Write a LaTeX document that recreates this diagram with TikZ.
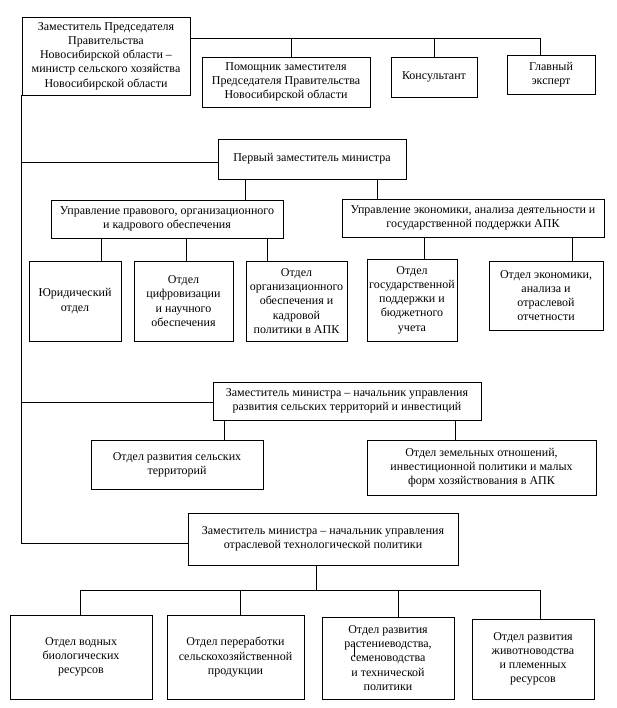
\documentclass[tikz,border=0pt]{standalone}
\usepackage{fontspec}
\setmainfont{Liberation Serif}
\begin{document}
\begin{tikzpicture}[x=1pt,y=-1pt,
  box/.style={draw=black, line width=0.9pt, fill=white, inner sep=0pt, align=center,
    font=\fontsize{12}{14.2}\selectfont},
  conn/.style={draw=black, line width=0.9pt}]
\fill[white] (0,0) rectangle (617,708);
\useasboundingbox (0,0) rectangle (617,708);

% top row
\node[box, minimum width=168pt, minimum height=78pt] (min) at (106,56)
  {Заместитель Председателя\\Правительства\\Новосибирской области –\\министр сельского хозяйства\\Новосибирской области};
\node[box, minimum width=168pt, minimum height=50pt] (asst) at (286,82)
  {Помощник заместителя\\Председателя Правительства\\Новосибирской области};
\node[box, minimum width=86pt, minimum height=40pt] (cons) at (434,77) {Консультант};
\node[box, minimum width=88pt, minimum height=39pt] (glav) at (551,74.5) {Главный\\эксперт};

% first deputy block
\node[box, minimum width=188pt, minimum height=40pt] (first) at (312,159) {Первый заместитель министра};
\node[box, minimum width=232pt, minimum height=38pt] (upr1) at (167,219)
  {Управление правового, организационного\\и кадрового обеспечения};
\node[box, minimum width=262pt, minimum height=38pt] (upr2) at (473,218)
  {Управление экономики, анализа деятельности и\\государственной поддержки АПК};
\node[box, minimum width=92pt, minimum height=80pt] (jur) at (75,301) {Юридический\\отдел};
\node[box, minimum width=99pt, minimum height=80pt] (cif) at (183.5,301)
  {Отдел\\цифровизации\\и научного\\обеспечения};
\node[box, minimum width=101pt, minimum height=80pt] (org) at (296.5,301)
  {Отдел\\организационного\\обеспечения и\\кадровой\\политики в АПК};
\node[box, minimum width=90pt, minimum height=82pt] (gos) at (412,300)
  {Отдел\\государственной\\поддержки и\\бюджетного\\учета};
\node[box, minimum width=114pt, minimum height=69pt] (eco) at (546,295.5)
  {Отдел экономики,\\анализа и\\отраслевой\\отчетности};

% second deputy block
\node[box, minimum width=268pt, minimum height=38pt] (zam2) at (347,401)
  {Заместитель министра – начальник управления\\развития сельских территорий и инвестиций};
\node[box, minimum width=172pt, minimum height=49pt] (srt) at (177,464.5)
  {Отдел развития сельских\\территорий};
\node[box, minimum width=229pt, minimum height=55pt] (zem) at (481.5,467.5)
  {Отдел земельных отношений,\\инвестиционной политики и малых\\форм хозяйствования в АПК};

% third deputy block
\node[box, minimum width=270pt, minimum height=52pt] (zam3) at (323,539)
  {Заместитель министра – начальник управления\\отраслевой технологической политики};
\node[box, minimum width=142pt, minimum height=84pt] (b1) at (81,657)
  {Отдел водных\\биологических\\ресурсов};
\node[box, minimum width=137pt, minimum height=84pt] (b2) at (235.5,657)
  {Отдел переработки\\сельскохозяйственной\\продукции};
\node[box, minimum width=132pt, minimum height=82pt] (b3) at (388,658)
  {Отдел развития\\растениеводства,\\семеноводства\\и технической\\политики};
\node[box, minimum width=122pt, minimum height=80pt] (b4) at (533,659)
  {Отдел развития\\животноводства\\и племенных\\ресурсов};

\coordinate (topbus) at (0,39);
\coordinate (bus) at (0,590);

% top connectors
\draw[conn] ([yshift=-22pt]min.north east) -| ([xshift=-11pt]glav.north);
\draw[conn] ([xshift=5pt]asst.north) -- ([xshift=5pt]asst.north |- topbus);
\draw[conn] (cons.north) -- (cons.north |- topbus);

% left spine
\draw[conn] (min.south west) |- ([yshift=-4pt]zam3.west);
\draw[conn] ([yshift=-3pt]first.west) -- ([yshift=-3pt]first.west -| min.south west);
\draw[conn] ([yshift=-1pt]zam2.west) -- ([yshift=-1pt]zam2.west -| min.south west);

% first deputy connectors
\draw[conn] ([xshift=-67pt]first.south) -- ([xshift=-67pt]first.south |- upr1.north);
\draw[conn] ([xshift=65pt]first.south) -- ([xshift=65pt]first.south |- upr2.north);
\draw[conn] ([xshift=26pt]jur.north) -- ([xshift=26pt]jur.north |- upr1.south);
\draw[conn] ([xshift=2.5pt]cif.north) -- ([xshift=2.5pt]cif.north |- upr1.south);
\draw[conn] ([xshift=-29.5pt]org.north) -- ([xshift=-29.5pt]org.north |- upr1.south);
\draw[conn] ([xshift=12pt]gos.north) -- ([xshift=12pt]gos.north |- upr2.south);
\draw[conn] ([xshift=26pt]eco.north) -- ([xshift=26pt]eco.north |- upr2.south);

% second deputy connectors
\draw[conn] ([xshift=47pt]srt.north) -- ([xshift=47pt]srt.north |- zam2.south);
\draw[conn] ([xshift=-26.5pt]zem.north) -- ([xshift=-26.5pt]zem.north |- zam2.south);

% third deputy connectors
\draw[conn] ([xshift=-7pt]zam3.south) -- ([xshift=-7pt]zam3.south |- bus);
\draw[conn] ([xshift=-1pt]b1.north) |- ([xshift=7pt]b4.north |- bus) -- ([xshift=7pt]b4.north);
\draw[conn] ([xshift=4.5pt]b2.north) -- ([xshift=4.5pt]b2.north |- bus);
\draw[conn] ([xshift=10pt]b3.north) -- ([xshift=10pt]b3.north |- bus);

% small stray mark inside b3
\draw[black, line width=0.6pt] ([xshift=-34pt,yshift=15pt]b3.center) -- ([xshift=-34pt,yshift=1pt]b3.center);
\end{tikzpicture}
\end{document}
